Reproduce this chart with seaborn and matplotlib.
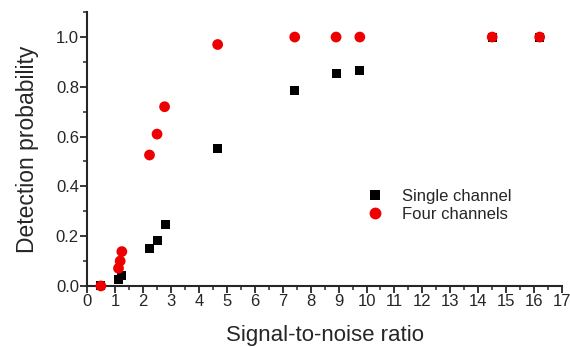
import pandas as pd
import matplotlib
matplotlib.use("Agg")
import matplotlib.pyplot as plt
import seaborn as sns
from matplotlib.ticker import MultipleLocator

# DATA
single_snr = [0.49, 1.12, 1.24, 2.23, 2.50, 2.80, 4.67, 7.43, 8.91, 9.76, 14.5, 16.2]
single_pd = [0.0, 0.024, 0.040, 0.151, 0.182, 0.245, 0.553, 0.787, 0.854, 0.867, 1.0, 1.0]

four_snr = [0.49, 1.12, 1.18, 1.24, 2.23, 2.50, 2.77, 4.67, 7.43, 8.91, 9.76, 14.5, 16.2]
four_pd = [0.0, 0.071, 0.100, 0.138, 0.526, 0.610, 0.720, 0.970, 1.0, 1.0, 1.0, 1.0, 1.0]

df = pd.concat([
    pd.DataFrame({"snr": single_snr, "pd": single_pd, "series": "Single channel"}),
    pd.DataFrame({"snr": four_snr, "pd": four_pd, "series": "Four channels"}),
], ignore_index=True)

sns.set_style("ticks")
plt.rcParams['font.family'] = ['Liberation Sans', 'DejaVu Sans']

fig = plt.figure(figsize=(5.70, 3.47), dpi=100)
ax = fig.add_axes([0.153, 0.176, 0.833, 0.789])

sns.scatterplot(data=df, x="snr", y="pd", hue="series", style="series", size="series",
                palette={"Single channel": "black", "Four channels": "#ee0000"},
                markers={"Single channel": "s", "Four channels": "o"},
                sizes={"Single channel": 42, "Four channels": 60},
                edgecolor="none", linewidth=0, clip_on=False, ax=ax, zorder=3)

ax.set_xlim(0, 17)
ax.set_ylim(0, 1.1)
ax.xaxis.set_major_locator(MultipleLocator(1))
ax.xaxis.set_minor_locator(MultipleLocator(0.5))
ax.yaxis.set_minor_locator(MultipleLocator(0.1))
ax.set_yticks([0, 0.2, 0.4, 0.6, 0.8, 1.0])
ax.set_yticklabels(["0.0", "0.2", "0.4", "0.6", "0.8", "1.0"])
ax.tick_params(which="major", direction="out", length=5, width=1.3, labelsize=12, pad=1)
ax.tick_params(which="minor", direction="out", length=3, width=1.1)

for sp in ["top", "right"]:
    ax.spines[sp].set_visible(False)
for sp in ["left", "bottom"]:
    ax.spines[sp].set_linewidth(1.5)

ax.set_xlabel("Signal-to-noise ratio", fontsize=16, labelpad=11)
ax.set_ylabel("Detection probability", fontsize=16.5, labelpad=12)

leg = ax.legend(loc="upper left", bbox_to_anchor=(0.54, 0.41), frameon=False,
                fontsize=12, handletextpad=0.6, labelspacing=0.2, markerscale=1.1)
leg.set_title(None)

fig.savefig("out.png", dpi=100)
